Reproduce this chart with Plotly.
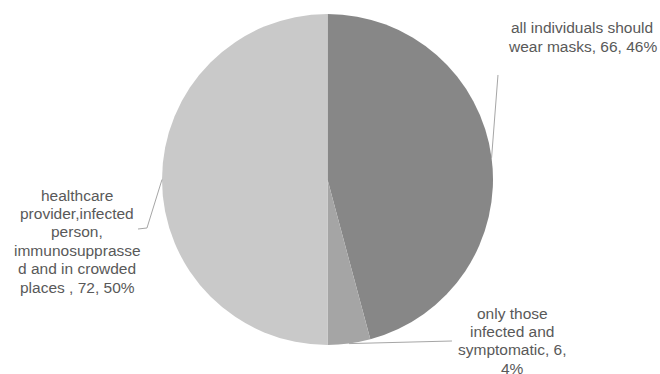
import math
import plotly.graph_objects as go

# ---- data ----
categories = [
    "all individuals should wear masks",
    "only those infected and symptomatic",
    "healthcare provider,infected person, immunosuppressed and in crowded places ",
]
values = [66, 6, 72]
# label lines as wrapped in the original chart (name, value, percent)
label_lines = [
    ["all individuals should", "wear masks, {v}, {p}%"],
    ["only those", "infected and", "symptomatic, {v},", "{p}%"],
    ["healthcare", "provider,infected", "person,", "immunosupprasse", "d and in crowded", "places , {v}, {p}%"],
]
colors = ["#878787", "#a5a5a5", "#c9c9c9"]

# ---- layout ----
W, H = 660, 374
cx, cy, r = 327.5, 179.5, 165.5
# label block (center x, first line y) and leader elbow points, in pixels
label_pos = [(582, 28), (512, 313), (77, 195)]
leader_pts = [[(498, 75)], [(452, 341)], [(147, 228), (138, 229)]]
line_h = 18.4
font = dict(family="Liberation Sans, Arial, sans-serif", size=15.5, color="#595959")

total = sum(values)
fig = go.Figure(go.Pie(
    values=values, labels=categories, sort=False, direction="clockwise", rotation=0,
    marker=dict(colors=colors, line=dict(width=0)), textinfo="none", hoverinfo="label+value+percent",
    domain=dict(x=[(cx - r) / W, (cx + r) / W], y=[(H - cy - r) / H, (H - cy + r) / H]),
    showlegend=False,
))

def px2paper(x, y):
    return x / W, 1 - y / H

annotations, shapes = [], []
cum = 0
for i, v in enumerate(values):
    frac = v / total
    theta = 2 * math.pi * (cum + frac / 2)
    cum += frac
    ex, ey = cx + r * math.sin(theta), cy - r * math.cos(theta)
    pts = [(ex, ey)] + leader_pts[i]
    path = "M " + " L ".join("{:.4f},{:.4f}".format(*px2paper(x, y)) for x, y in pts)
    shapes.append(dict(type="path", xref="paper", yref="paper", path=path,
                       line=dict(color="#a6a6a6", width=1)))
    pct = round(100 * frac)
    lx, ly = label_pos[i]
    for k, ln in enumerate(label_lines[i]):
        t = ln.format(v=v, p=pct)
        xp, yp = px2paper(lx, ly + k * line_h)
        annotations.append(dict(text=t, x=xp, y=yp, xref="paper", yref="paper",
                                xanchor="center", yanchor="middle", showarrow=False, font=font))

fig.update_layout(
    width=W, height=H, margin=dict(l=0, r=0, t=0, b=0),
    paper_bgcolor="white", plot_bgcolor="white",
    annotations=annotations, shapes=shapes,
)
fig.write_html("out.html")
